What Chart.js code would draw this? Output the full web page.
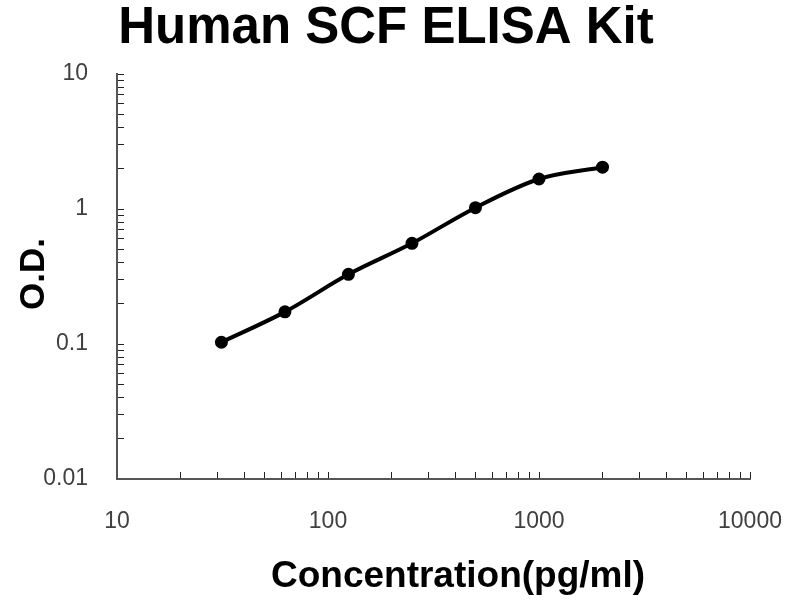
<!DOCTYPE html>
<html>
<head>
<meta charset="utf-8">
<script src="https://cdn.jsdelivr.net/npm/chart.js@4"></script>
<style>
  html, body { margin: 0; padding: 0; background: #fff; }
  #wrap { width: 800px; height: 600px; }
</style>
</head>
<body>
<div id="wrap"><canvas id="c" width="800" height="600"></canvas></div>
<script>
const titleText = 'Human SCF ELISA Kit';
const xTitleText = 'Concentration(pg/ml)';
const yTitleText = 'O.D.';

const concentrations = [31.25, 62.5, 125, 250, 500, 1000, 2000];
const odValues = [0.103, 0.173, 0.328, 0.557, 1.023, 1.668, 2.04];

const xMajorTicks = [10, 100, 1000, 10000];
const yMajorTicks = [0.01, 0.1, 1, 10];
const minorMultipliers = [2, 3, 4, 5, 6, 7, 8, 9];

function logTicks(majors) {
  const out = [];
  majors.forEach((m, i) => {
    out.push({ value: m });
    if (i < majors.length - 1) {
      minorMultipliers.forEach(k => out.push({ value: +(m * k).toPrecision(6) }));
    }
  });
  return out;
}

const FONT = '"Liberation Sans", Arial, sans-serif';

const textPlugin = {
  id: 'texts',
  afterDraw(chart) {
    const ctx = chart.ctx;
    ctx.save();
    ctx.fillStyle = '#000';
    ctx.textAlign = 'center';
    ctx.textBaseline = 'alphabetic';
    ctx.font = 'bold 51px ' + FONT;
    ctx.fillText(titleText, 386, 43);
    ctx.font = 'bold 37px ' + FONT;
    ctx.fillText(xTitleText, 458, 587);
    ctx.translate(44, 274);
    ctx.rotate(-Math.PI / 2);
    ctx.font = 'bold 35px ' + FONT;
    ctx.fillText(yTitleText, 0, 0);
    ctx.restore();
  }
};

new Chart(document.getElementById('c'), {
  type: 'line',
  data: {
    datasets: [{
      data: concentrations.map((x, i) => ({ x: x, y: odValues[i] })),
      borderColor: '#000',
      backgroundColor: '#000',
      borderWidth: 4,
      pointRadius: 4.5,
      pointBackgroundColor: '#000',
      pointBorderColor: '#000',
      cubicInterpolationMode: 'monotone',
      fill: false
    }]
  },
  options: {
    responsive: false,
    animation: false,
    devicePixelRatio: 1,
    layout: { padding: { top: 74, right: 50, left: 0, bottom: 0 } },
    plugins: { legend: { display: false }, tooltip: { enabled: false }, title: { display: false } },
    scales: {
      x: {
        type: 'logarithmic',
        min: 10, max: 10000,
        afterBuildTicks(scale) { scale.ticks = logTicks(xMajorTicks); },
        afterFit(scale) { scale.height = 121; scale.paddingRight = 0; scale.paddingLeft = 0; },
        grid: { drawOnChartArea: false, drawTicks: true, tickLength: -7, color: '#222', lineWidth: 1 },
        border: { display: true, color: '#555', width: 2 },
        ticks: {
          autoSkip: false, maxRotation: 0, padding: 36,
          color: '#404040', font: { family: FONT, size: 23 },
          callback(v) { return xMajorTicks.includes(v) ? String(v) : ''; }
        }
      },
      y: {
        type: 'logarithmic',
        min: 0.01, max: 10,
        afterBuildTicks(scale) { scale.ticks = logTicks(yMajorTicks); },
        afterFit(scale) { scale.width = 117; },
        grid: { drawOnChartArea: false, drawTicks: true, tickLength: -7, color: '#222', lineWidth: 1 },
        border: { display: true, color: '#555', width: 2 },
        ticks: {
          autoSkip: false, padding: 36,
          color: '#404040', font: { family: FONT, size: 23 },
          callback(v) { return yMajorTicks.includes(v) ? String(v) : ''; }
        }
      }
    }
  },
  plugins: [textPlugin]
});
</script>
</body>
</html>
